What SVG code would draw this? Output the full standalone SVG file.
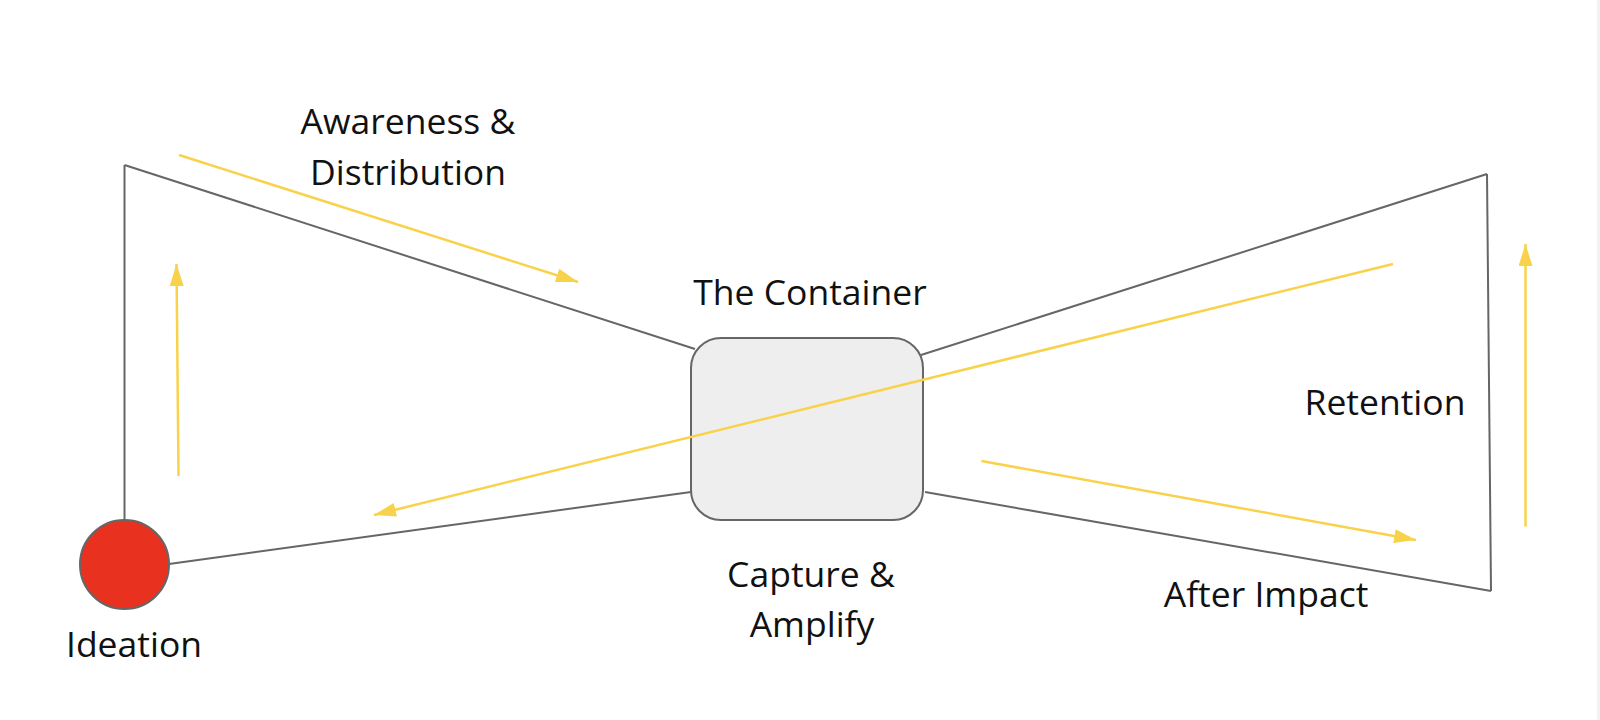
<svg xmlns="http://www.w3.org/2000/svg" width="1600" height="720" viewBox="0 0 1600 720">
  <defs>
    <style>
      .edge { stroke: #666666; stroke-width: 2; fill: none; }
      .flow { stroke: #f9d24b; stroke-width: 2.5; fill: none; marker-end: url(#ah); }
      .lbl { font-family: "Open Sans", "Noto Sans", "Liberation Sans", sans-serif; font-size: 35.5px; fill: #111111; text-anchor: middle; }
    </style>
    <marker id="ah" markerUnits="userSpaceOnUse" markerWidth="24" markerHeight="16" refX="22" refY="7" orient="auto">
      <path d="M0,0 L22,7 L0,14 z" fill="#f9d24b"/>
    </marker>
  </defs>
  <rect x="0" y="0" width="1600" height="720" fill="#ffffff"/>
  <rect x="1597" y="0" width="3" height="720" fill="#f2f2f2"/>

  <g id="ideation">
    <circle cx="124.5" cy="564.5" r="44.5" fill="#e8321f" stroke="#666666" stroke-width="2"/>
    <text class="lbl" x="134" y="657">Ideation</text>
  </g>

  <g id="container">
    <rect x="691" y="338" width="232" height="182" rx="30" ry="30" fill="#eeeeee" stroke="#666666" stroke-width="2"/>
    <text class="lbl" x="810" y="305">The Container</text>
  </g>

  <g id="awareness">
    <text class="lbl" x="408" y="134">Awareness &amp;</text>
    <text class="lbl" x="408" y="185">Distribution</text>
  </g>

  <g id="capture">
    <text class="lbl" x="811" y="587">Capture &amp;</text>
    <text class="lbl" x="812" y="637">Amplify</text>
  </g>

  <g id="retention">
    <text class="lbl" x="1385" y="415">Retention</text>
  </g>

  <g id="after-impact">
    <text class="lbl" x="1266" y="607">After Impact</text>
  </g>

  <g id="connectors">
    <line class="edge" x1="124.5" y1="520" x2="124.5" y2="165"/>
    <line class="edge" x1="124.5" y1="165" x2="695" y2="349"/>
    <line class="edge" x1="169" y1="564" x2="691" y2="492"/>
    <line class="edge" x1="921" y1="355" x2="1487" y2="174"/>
    <line class="edge" x1="1487" y1="174" x2="1491" y2="591"/>
    <line class="edge" x1="925" y1="492" x2="1491" y2="591"/>

    <line class="flow" x1="179" y1="155" x2="578" y2="282"/>
    <line class="flow" x1="178.5" y1="476" x2="176.5" y2="264"/>
    <line class="flow" x1="1393" y1="264" x2="374" y2="515"/>
    <line class="flow" x1="981.5" y1="461" x2="1416" y2="540"/>
    <line class="flow" x1="1525.5" y1="526.5" x2="1525.5" y2="244"/>
  </g>
</svg>
